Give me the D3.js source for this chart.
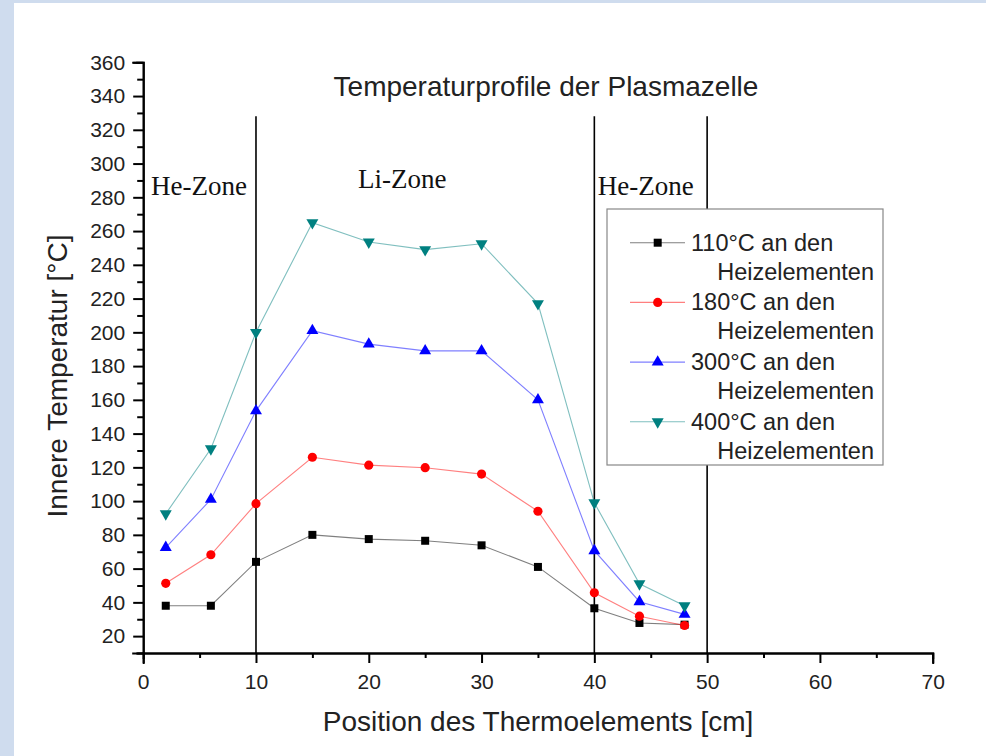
<!DOCTYPE html>
<html>
<head>
<meta charset="utf-8">
<script src="https://cdnjs.cloudflare.com/ajax/libs/d3/7.8.5/d3.min.js"></script>
<style>
  body { margin: 0; background: #cfdcee; }
  #chart-area { width: 986px; height: 756px; }
  .axis path, .axis line { stroke: #000; stroke-width: 2; }
  .axis text { font-family: "Liberation Sans", Arial, sans-serif; font-size: 21px; fill: #222; }
</style>
</head>
<body>
<div id="chart-area"></div>
<script>
// DATA

let positions = [2, 6, 10, 15, 20, 25, 30, 35, 40, 44, 48];

let temp110 = [38, 38, 64, 80, 77.5, 76.5, 73.8, 61, 36.5, 27.8, 26.8];
let temp180 = [51.3, 68.2, 98.5, 126, 121.3, 119.8, 116, 94, 45.7, 31.8, 26.3];
let temp300 = [72.5, 101, 153.5, 201, 193, 189, 189, 160, 70.6, 40.4, 32.9];
let temp400 = [92.5, 131, 200, 265, 253.5, 249, 252.5, 217, 99, 51, 38];

let seriesNames = ["110°C an den", "180°C an den", "300°C an den", "400°C an den"];
let seriesColors = ["#000000", "#ff0000", "#0000ff", "#008080"];
let seriesShapes = [d3.symbolSquare, d3.symbolCircle, d3.symbolTriangle, d3.symbolTriangle];

let xTicks = [0, 10, 20, 30, 40, 50, 60, 70];
let yTicks = d3.range(20, 361, 20);

let zoneLines = [10, 40, 50];
let zoneLabels = [
  { text: "He-Zone", x: 0.7 },
  { text: "Li-Zone", x: 19.05 },
  { text: "He-Zone", x: 40.3 }
];

// CHART AREA

let width = 986,
  height = 756;

let svg = d3
  .select("#chart-area")
  .append("svg")
  .attr("width", width)
  .attr("height", height);

svg.append("rect")
  .attr("x", 14)
  .attr("y", 3)
  .attr("width", width - 14)
  .attr("height", height - 3)
  .attr("fill", "#fff");

let x = d3.scaleLinear().domain([0, 70]).range([143.2, 932.7]);
let y = d3.scaleLinear().domain([10, 360]).range([653, 62.3]);

// AXIS

let xAxis = d3.axisBottom(x).tickValues(xTicks).tickSize(10).tickPadding(11);
let xMinor = d3.axisBottom(x).tickValues(d3.range(5, 70, 10)).tickSize(5).tickFormat("");
let yAxis = d3.axisLeft(y).tickValues(yTicks).tickSize(10).tickPadding(8);
let yMinor = d3.axisLeft(y).tickValues(d3.range(10, 360, 20)).tickSize(6).tickFormat("");

svg.append("g").attr("class", "axis")
  .attr("transform", "translate(0," + y(10) + ")")
  .call(xAxis);
svg.append("g").attr("class", "axis")
  .attr("transform", "translate(0," + y(10) + ")")
  .call(xMinor);
svg.append("g").attr("class", "axis")
  .attr("transform", "translate(" + x(0) + ",0)")
  .call(yAxis);
svg.append("g").attr("class", "axis")
  .attr("transform", "translate(" + x(0) + ",0)")
  .call(yMinor);

svg.selectAll(".axis path").attr("stroke-linecap", "square");

// ZONES

svg.selectAll(".zone-line")
  .data(zoneLines)
  .enter()
  .append("line")
  .attr("class", "zone-line")
  .attr("x1", d => x(d))
  .attr("x2", d => x(d))
  .attr("y1", y(328))
  .attr("y2", y(10))
  .attr("stroke", "#000")
  .attr("stroke-width", 1.6);

svg.selectAll(".zone-label")
  .data(zoneLabels)
  .enter()
  .append("text")
  .attr("class", "zone-label")
  .attr("x", d => x(d.x))
  .attr("y", d => d.text == "Li-Zone" ? 188 : 195)
  .style("font-family", "'Liberation Serif', 'Times New Roman', serif")
  .style("font-size", "27px")
  .style("fill", "#111")
  .text(d => d.text);

// SERIES

let allSeries = [temp110, temp180, temp300, temp400];

let line = d3.line()
  .x((d, i) => x(positions[i]))
  .y(d => y(d));

allSeries.forEach(function(values, k) {
  svg.append("path")
    .datum(values)
    .attr("d", line)
    .attr("fill", "none")
    .attr("stroke", seriesColors[k])
    .attr("stroke-opacity", 0.5)
    .attr("stroke-width", 1.1);
});

function symbolFor(k) {
  let size = k == 0 ? 64 : k == 1 ? 66 : 62;
  return d3.symbol().type(seriesShapes[k]).size(size);
}

allSeries.forEach(function(values, k) {
  svg.selectAll(".pt" + k)
    .data(values)
    .enter()
    .append("path")
    .attr("class", "pt" + k)
    .attr("d", symbolFor(k))
    .attr("transform", function(d, i) {
      let t = "translate(" + x(positions[i]) + "," + y(d) + ")";
      return k == 3 ? t + " rotate(180)" : t;
    })
    .attr("fill", seriesColors[k]);
});

// TITLES

svg.append("text")
  .attr("x", 546)
  .attr("y", 96)
  .style("text-anchor", "middle")
  .style("font-family", "'Liberation Sans', Arial, sans-serif")
  .style("font-size", "28px")
  .style("fill", "#222")
  .text("Temperaturprofile der Plasmazelle");

svg.append("text")
  .attr("transform", "translate(67,376) rotate(-90)")
  .style("text-anchor", "middle")
  .style("font-family", "'Liberation Sans', Arial, sans-serif")
  .style("font-size", "28px")
  .style("fill", "#222")
  .text("Innere Temperatur [°C]");

svg.append("text")
  .attr("x", 538)
  .attr("y", 731)
  .style("text-anchor", "middle")
  .style("font-family", "'Liberation Sans', Arial, sans-serif")
  .style("font-size", "28px")
  .style("fill", "#222")
  .text("Position des Thermoelements [cm]");

// LEGEND

let legend = svg.append("g");

legend.append("rect")
  .attr("x", 607)
  .attr("y", 209)
  .attr("width", 276)
  .attr("height", 256)
  .attr("fill", "#fff")
  .attr("stroke", "#888")
  .attr("stroke-width", 1.2);

let rows = legend.selectAll(".legend-row")
  .data(seriesNames)
  .enter()
  .append("g")
  .attr("class", "legend-row")
  .attr("transform", (d, i) => "translate(0," + (242.7 + i * 59.7) + ")");

rows.append("line")
  .attr("x1", 630)
  .attr("x2", 685)
  .attr("stroke", (d, i) => seriesColors[i])
  .attr("stroke-opacity", 0.5)
  .attr("stroke-width", 1.1);

rows.append("path")
  .attr("d", (d, i) => symbolFor(i)())
  .attr("transform", (d, i) => "translate(657.7,0)" + (i == 3 ? " rotate(180)" : ""))
  .attr("fill", (d, i) => seriesColors[i]);

rows.append("text")
  .attr("x", 691)
  .attr("y", 8)
  .style("font-family", "'Liberation Sans', Arial, sans-serif")
  .style("font-size", "23.5px")
  .style("fill", "#222")
  .text(d => d);

rows.append("text")
  .attr("x", 874)
  .attr("y", 37)
  .style("text-anchor", "end")
  .style("font-family", "'Liberation Sans', Arial, sans-serif")
  .style("font-size", "23.5px")
  .style("fill", "#222")
  .text("Heizelementen");
</script>
</body>
</html>
